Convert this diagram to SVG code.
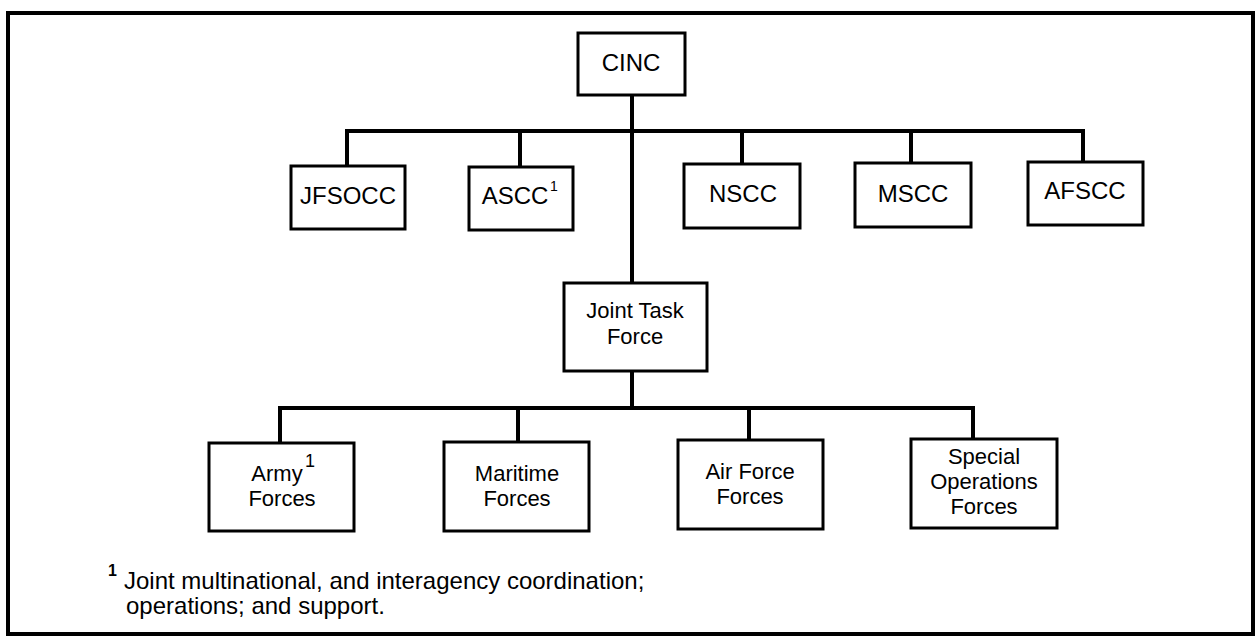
<svg xmlns="http://www.w3.org/2000/svg" width="1258" height="639" viewBox="0 0 1258 639">
<style>
.box{fill:#fff;stroke:#000;stroke-width:3}
.t{font-family:"Liberation Sans",Arial,sans-serif;font-size:24px;fill:#000;text-anchor:middle}
.m{font-family:"Liberation Sans",Arial,sans-serif;font-size:22px;fill:#000;text-anchor:middle}
.sup{font-family:"Liberation Sans",Arial,sans-serif;font-size:14px;fill:#000}
.ln{fill:none;stroke:#000;stroke-width:4}
.fn{font-family:"Liberation Sans",Arial,sans-serif;font-size:24px;fill:#000}
</style>
<rect x="0" y="0" width="1258" height="639" fill="#fff"/>
<rect x="8" y="13" width="1245" height="621" fill="none" stroke="#000" stroke-width="4"/>
<g id="connectors">
<path class="ln" d="M632 95 V283"/>
<path class="ln" d="M347 166 V131 H1083 V162"/>
<path class="ln" d="M520 131 V167"/>
<path class="ln" d="M742 131 V164"/>
<path class="ln" d="M911 131 V163"/>
<path class="ln" d="M632 371 V408"/>
<path class="ln" d="M280 443 V408 H973 V439"/>
<path class="ln" d="M518 408 V442"/>
<path class="ln" d="M749 408 V440"/>
</g>
<g id="cinc"><rect class="box" x="578" y="33" width="107" height="62"/><text class="t" x="631" y="71">CINC</text></g>
<g id="jfsocc"><rect class="box" x="291" y="166" width="114" height="63"/><text class="t" x="348" y="204">JFSOCC</text></g>
<g id="ascc"><rect class="box" x="469" y="167" width="104" height="63"/><text class="t" x="515" y="204">ASCC</text><text class="sup" x="550" y="191">1</text></g>
<g id="nscc"><rect class="box" x="684" y="164" width="116" height="64"/><text class="t" x="743" y="202">NSCC</text></g>
<g id="mscc"><rect class="box" x="855" y="163" width="116" height="64"/><text class="t" x="913" y="202">MSCC</text></g>
<g id="afscc"><rect class="box" x="1028" y="162" width="115" height="63"/><text class="t" x="1085" y="199">AFSCC</text></g>
<g id="jtf"><rect class="box" x="564" y="283" width="143" height="88"/><text class="m" x="635" y="318">Joint Task</text><text class="m" x="635" y="344">Force</text></g>
<g id="army"><rect class="box" x="209" y="443" width="145" height="88"/><text class="m" x="277" y="481">Army</text><text class="sup" x="305" y="467" style="font-size:18px">1</text><text class="m" x="282" y="506">Forces</text></g>
<g id="maritime"><rect class="box" x="444" y="442" width="145" height="89"/><text class="m" x="517" y="481">Maritime</text><text class="m" x="517" y="506">Forces</text></g>
<g id="airforce"><rect class="box" x="678" y="440" width="145" height="89"/><text class="m" x="750" y="479">Air Force</text><text class="m" x="750" y="504">Forces</text></g>
<g id="specops"><rect class="box" x="911" y="439" width="146" height="89"/><text class="m" x="984" y="464">Special</text><text class="m" x="984" y="489">Operations</text><text class="m" x="984" y="514">Forces</text></g>
<g id="footnote">
<text class="sup" x="108" y="576" style="font-size:16px;font-weight:bold">1</text>
<text class="fn" x="124" y="589">Joint multinational, and interagency coordination;</text>
<text class="fn" x="126" y="614">operations; and support.</text>
</g>
</svg>
